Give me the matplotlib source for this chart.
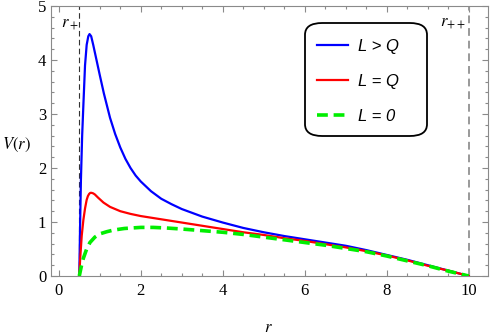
import numpy as np
import matplotlib.pyplot as plt
from matplotlib.ticker import MultipleLocator
from matplotlib.patches import FancyBboxPatch

# ── data ─────────────────────────────────────────────────────────────────────
r_plus, r_pp = 0.5, 10.0

r_blue = [0.5, 0.52, 0.54, 0.57, 0.6, 0.64, 0.68, 0.72, 0.75, 0.79, 0.84, 0.92, 1.0,
          1.1, 1.25, 1.375, 1.5, 1.625, 1.75, 1.875, 2.0, 2.25, 2.5, 2.75, 3.0, 3.5,
          4.0, 4.5, 5.0, 5.5, 6.0, 6.5, 7.0, 7.5, 8.0, 8.5, 9.0, 9.5, 10.0]
V_blue = [0.0, 0.95, 1.78, 2.6, 3.17, 3.9, 4.28, 4.44, 4.48, 4.44, 4.28, 4.0, 3.72,
          3.38, 2.93, 2.63, 2.38, 2.17, 2.00, 1.86, 1.75, 1.57, 1.43, 1.33, 1.24, 1.10,
          0.99, 0.89, 0.81, 0.74, 0.68, 0.62, 0.56, 0.48, 0.39, 0.30, 0.20, 0.10, 0.0]

r_red = [0.5, 0.52, 0.56, 0.6, 0.64, 0.68, 0.71, 0.74, 0.77, 0.8, 0.84, 0.88, 0.96,
         1.09, 1.25, 1.5, 1.75, 2.0, 2.5, 3.0, 3.5, 4.0, 4.5, 5.0, 5.5, 6.0, 6.5,
         7.0, 7.5, 8.0, 8.5, 9.0, 9.5, 10.0]
V_red = [0.0, 0.3, 0.75, 1.04, 1.25, 1.41, 1.48, 1.52, 1.54, 1.54, 1.53, 1.51, 1.45,
         1.36, 1.28, 1.20, 1.15, 1.11, 1.05, 0.99, 0.93, 0.87, 0.81, 0.76, 0.70, 0.65,
         0.59, 0.53, 0.46, 0.38, 0.29, 0.19, 0.10, 0.0]

r_green = [0.5, 0.55, 0.6, 0.68, 0.76, 0.88, 1.0, 1.17, 1.33, 1.6, 2.0, 2.3, 2.6,
           3.0, 3.5, 4.0, 4.5, 5.0, 5.5, 6.0, 6.5, 7.0, 7.5, 8.0, 8.5, 9.0, 9.5, 10.0]
V_green = [0.0, 0.18, 0.33, 0.50, 0.62, 0.72, 0.78, 0.82, 0.85, 0.88, 0.90, 0.90, 0.89,
           0.87, 0.84, 0.81, 0.77, 0.72, 0.67, 0.62, 0.57, 0.51, 0.45, 0.37, 0.28, 0.19,
           0.09, 0.0]

# ── figure ───────────────────────────────────────────────────────────────────
plt.rcParams["mathtext.fontset"] = "stix"
plt.rcParams["font.family"] = ["Liberation Serif", "DejaVu Serif"]
gray = "#8a8a8a"

fig = plt.figure(figsize=(4.91, 3.36), dpi=100)
ax = fig.add_axes([51/491, 60/336, (488-51)/491, (276-6)/336])

ax.plot(r_blue, V_blue, color="#0000ff", lw=1.6, label="L > Q", zorder=3)
ax.plot(r_red, V_red, color="#ff0000", lw=1.6, label="L = Q", zorder=4)
ax.plot(r_green, V_green, color="#00ee00", lw=2.6, ls=(0, (3, 1.6)),
        label="L = 0", zorder=5)

ax.axvline(r_plus, color="#333333", lw=0.8, ls=(0, (5, 3)), zorder=2)
ax.axvline(r_pp, color="#999999", lw=1.4, ls=(0, (4, 2.5)), zorder=2)
ax.text(0.28, 4.66, "$r_+$", fontsize=12, ha="center", va="center")
ax.text(9.62, 4.68, "$r_{++}$", fontsize=12, ha="center", va="center")

ax.set_xlim(-0.19, 10.47)
ax.set_ylim(0, 5)
ax.xaxis.set_major_locator(MultipleLocator(2))
ax.xaxis.set_minor_locator(MultipleLocator(0.5))
ax.yaxis.set_major_locator(MultipleLocator(1))
ax.yaxis.set_minor_locator(MultipleLocator(0.2))
ax.tick_params(which="both", direction="in", colors=gray, top=True, right=True,
               labelcolor="black", labelsize=12, width=0.8)
ax.tick_params(which="major", length=4.5)
ax.tick_params(which="minor", length=2.5)
ax.tick_params(axis="x", pad=5)
for s in ax.spines.values():
    s.set_color(gray)
    s.set_linewidth(0.8)

fig.text(268/491, 1-328/336, "$r$", fontsize=12, ha="center", va="center")
fig.text(16/491, 1-145/336, "$V(r)$", fontsize=12, ha="center", va="center")

# rounded legend box drawn by hand, entries without frame
box = FancyBboxPatch((305/491, 1-136/336), (427-305)/491, (136-23)/336,
                     boxstyle="round,pad=0,rounding_size=0.035",
                     transform=fig.transFigure, fc="white", ec="black", lw=1.3,
                     zorder=6, clip_on=False)
ax.add_patch(box)
leg = ax.legend(loc="upper left", bbox_to_anchor=(317/491, 1-39/336),
                bbox_transform=fig.transFigure,
                prop={"family": "Liberation Sans", "style": "italic", "size": 12},
                handlelength=1.85, handletextpad=0.6, labelspacing=1.19,
                borderpad=0, borderaxespad=0, frameon=False)
leg.set_zorder(7)

fig.savefig("out.png", dpi=100)
